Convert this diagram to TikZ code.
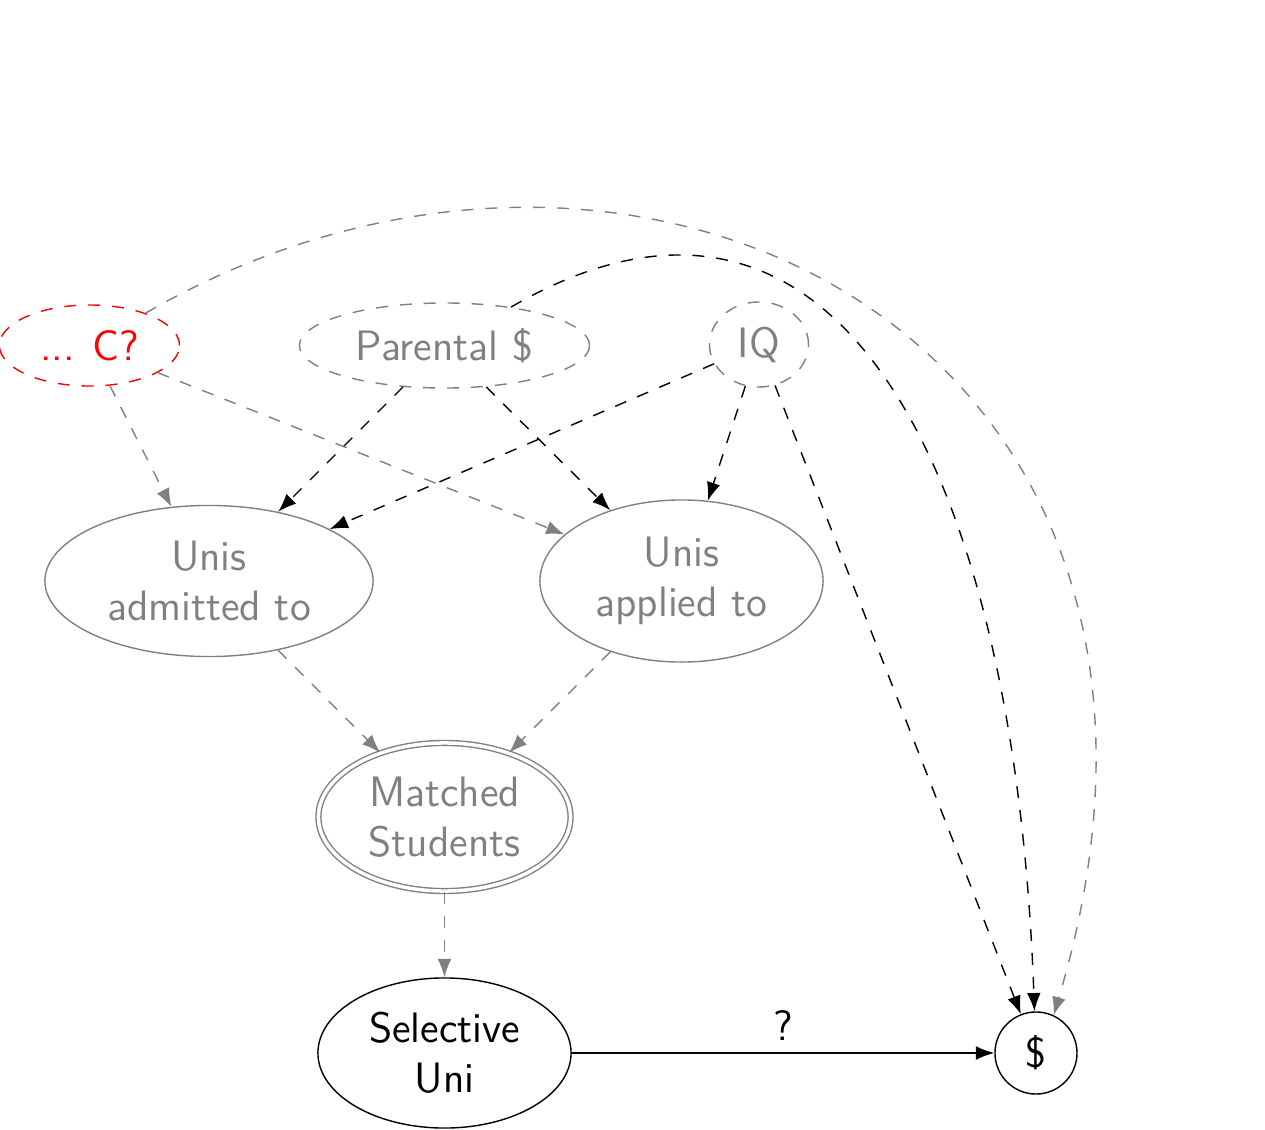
\documentclass[tikz,border=0pt]{standalone}
\usepackage{tikz}
\usetikzlibrary{shapes,arrows,arrows.meta}
\usetikzlibrary{shapes.geometric}
\tikzstyle{var} = [ellipse, draw=black!50, text=black!50, align=center, inner sep=1pt]
\tikzstyle{hidden} = [var, dash pattern=on 3.4pt off 3.4pt]
\tikzstyle{conf} = [ellipse, draw=red, dash pattern=on 3.4pt off 3.4pt, text=red, inner sep=1pt]
\tikzstyle{treat} = [ellipse, draw=black, align=center, inner sep=1pt]
\tikzstyle{outc} = [circle, draw=black, minimum size=0.82cm, inner sep=1pt]
\tikzstyle{link} = [draw, dash pattern=on 3.4pt off 3.4pt, -{Latex[length=5.2pt,width=3.9pt]}]
\tikzstyle{greylink} = [link, black!50]
\def\rowdist{236}

\begin{document}
\begin{tikzpicture}[x=0.01cm, y=-0.01cm, font=\fontsize{12.1}{14.2}\selectfont\sffamily]
    \useasboundingbox (0,0) rectangle (1265,1130);

    \node (sel) at (444.5,1053) [treat, minimum width=2.53cm, minimum height=1.5cm] {Selective\\Uni};
    \path (sel)+(591.5,0) node (dollar) [outc] {\$};
    \path (sel)+(0,-\rowdist) node (matched) [var, double, double distance=1pt, minimum width=2.52cm, minimum height=1.48cm] {Matched\\Students};
    \path (matched)+(-235.5,-\rowdist) node (admit) [var, minimum width=3.28cm, minimum height=1.51cm] {Unis\\admitted to};
    \path (matched)+(237,-\rowdist) node (applied) [var, minimum width=2.83cm, minimum height=1.62cm] {Unis\\applied to};
    \path (sel)+(0,-707.5) node (par) [hidden, minimum width=2.9cm, minimum height=0.85cm] {Parental \$};
    \path (par)+(-355,0) node (cee) [conf, minimum width=1.8cm, minimum height=0.81cm] {...\hspace{5pt}C?};
    \path (par)+(314.5,-1) node (iq) [hidden, minimum width=0.99cm, minimum height=0.85cm] {IQ};

    \foreach \x in {admit,applied}
    {
        \path [greylink] (cee) -- (\x);
        \path [link] (par) -- (\x);
        \path [link] (iq) -- (\x);
        \path [greylink] (\x) -- (matched);
    }

    \path [greylink] (matched) -- (sel);
    \path [draw, -{Latex[length=5.2pt,width=3.9pt]}] (sel) -- node [above] {?} (dollar);
    \path [link] (iq) -- (dollar);
    \path [link] (par.30) .. controls (839,117) and (1015,470) .. (dollar);
    \path [greylink] (cee.30) .. controls (639,28) and (1255,340) .. (dollar.65);

\end{tikzpicture}
\end{document}
